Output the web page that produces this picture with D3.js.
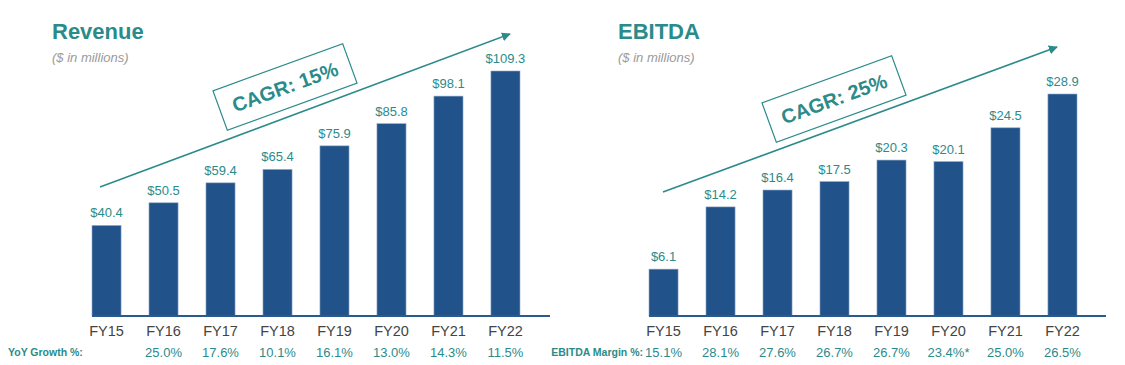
<!DOCTYPE html>
<html>
<head>
<meta charset="utf-8">
<script src="https://cdn.jsdelivr.net/npm/d3@7"></script>
<style>
  body { margin: 0; background: #fff; }
  svg { font-family: Arial, "Liberation Sans", sans-serif; }
</style>
</head>
<body>
<div id="chart"></div>
<script>
const years = ["FY15", "FY16", "FY17", "FY18", "FY19", "FY20", "FY21", "FY22"];
const revenue = [40.4, 50.5, 59.4, 65.4, 75.9, 85.8, 98.1, 109.3];
const revenueGrowth = ["", "25.0%", "17.6%", "10.1%", "16.1%", "13.0%", "14.3%", "11.5%"];
const ebitda = [6.1, 14.2, 16.4, 17.5, 20.3, 20.1, 24.5, 28.9];
const ebitdaMargin = ["15.1%", "28.1%", "27.6%", "26.7%", "26.7%", "23.4%*", "25.0%", "26.5%"];

const teal = "#2b8b8a";
const barColor = "#21538a";
const width = 1125, height = 365;

const svg = d3.select("#chart").append("svg")
    .attr("width", width)
    .attr("height", height);

svg.append("defs").append("marker")
    .attr("id", "arrowhead")
    .attr("viewBox", "0 0 10 10")
    .attr("refX", 9).attr("refY", 5)
    .attr("markerWidth", 9).attr("markerHeight", 9)
    .attr("markerUnits", "userSpaceOnUse")
    .attr("orient", "auto")
    .append("path")
    .attr("d", "M0,0 L10,5 L0,10 z")
    .attr("fill", teal);

function drawPanel(opts) {
    const g = svg.append("g");
    const baseline = 316;

    const x = d3.scaleBand()
        .domain(years)
        .range(opts.xRange)
        .paddingInner(0.49)
        .paddingOuter(0);

    const y = d3.scaleLinear()
        .domain([0, d3.max(opts.values)])
        .range([baseline, opts.topY]);

    // title
    g.append("text")
        .attr("x", opts.titleX).attr("y", 39)
        .attr("fill", teal)
        .style("font-size", "22px")
        .style("font-weight", "bold")
        .text(opts.title);

    g.append("text")
        .attr("x", opts.titleX).attr("y", 62)
        .attr("fill", "#9a9a9a")
        .style("font-size", "13px")
        .style("font-style", "italic")
        .text("($ in millions)");

    // CAGR arrow
    g.append("line")
        .attr("x1", opts.arrow[0]).attr("y1", opts.arrow[1])
        .attr("x2", opts.arrow[2]).attr("y2", opts.arrow[3])
        .attr("stroke", teal)
        .attr("stroke-width", 1.6)
        .attr("marker-end", "url(#arrowhead)");

    // CAGR box
    const box = g.append("g")
        .attr("transform", `translate(${opts.box[0]},${opts.box[1]}) rotate(-20)`);
    box.append("rect")
        .attr("x", -69).attr("y", -21)
        .attr("width", 138).attr("height", 42)
        .attr("fill", "#fff")
        .attr("stroke", teal)
        .attr("stroke-width", 1.2);
    box.append("text")
        .attr("text-anchor", "middle")
        .attr("y", 7)
        .attr("fill", teal)
        .style("font-size", "20px")
        .style("font-weight", "bold")
        .text(opts.cagr);

    // bars
    g.selectAll(".bar")
        .data(opts.values)
        .join("rect")
        .attr("class", "bar")
        .attr("x", (d, i) => x(years[i]))
        .attr("y", d => y(d))
        .attr("width", x.bandwidth())
        .attr("height", d => baseline - y(d))
        .attr("fill", barColor)
        .attr("stroke", "#8fa9c6")
        .attr("stroke-width", 0.6);

    // baseline
    g.append("line")
        .attr("x1", opts.xRange[0]).attr("x2", opts.axisEnd)
        .attr("y1", baseline).attr("y2", baseline)
        .attr("stroke", "#2a5b8f")
        .attr("stroke-width", 2);

    // value labels
    g.selectAll(".val")
        .data(opts.values)
        .join("text")
        .attr("class", "val")
        .attr("x", (d, i) => x(years[i]) + x.bandwidth() / 2)
        .attr("y", d => y(d) - 8)
        .attr("text-anchor", "middle")
        .attr("fill", teal)
        .style("font-size", "13px")
        .text(d => "$" + d.toFixed(1));

    // category labels
    g.selectAll(".cat")
        .data(years)
        .join("text")
        .attr("class", "cat")
        .attr("x", d => x(d) + x.bandwidth() / 2)
        .attr("y", 336)
        .attr("text-anchor", "middle")
        .attr("fill", "#444")
        .style("font-size", "14.5px")
        .text(d => d);

    // percentage row
    g.append("text")
        .attr("x", opts.rowLabelX).attr("y", 356)
        .attr("text-anchor", opts.rowAnchor)
        .attr("fill", teal)
        .style("font-size", "10.5px")
        .style("font-weight", "bold")
        .text(opts.rowLabel);

    g.selectAll(".pct")
        .data(opts.pcts)
        .join("text")
        .attr("class", "pct")
        .attr("x", (d, i) => x(years[i]) + x.bandwidth() / 2)
        .attr("y", 357)
        .attr("text-anchor", "middle")
        .attr("fill", teal)
        .style("font-size", "13px")
        .text(d => d);
}

drawPanel({
    title: "Revenue", titleX: 52,
    values: revenue, pcts: revenueGrowth,
    xRange: [92, 520], axisEnd: 550, topY: 71,
    arrow: [100, 187, 510, 34],
    box: [285, 87], cagr: "CAGR: 15%",
    rowLabel: "YoY Growth %:", rowLabelX: 8, rowAnchor: "start"
});

drawPanel({
    title: "EBITDA", titleX: 618,
    values: ebitda, pcts: ebitdaMargin,
    xRange: [649, 1077], axisEnd: 1106, topY: 94,
    arrow: [663, 192, 1057, 47],
    box: [834, 99], cagr: "CAGR: 25%",
    rowLabel: "EBITDA Margin %:", rowLabelX: 643, rowAnchor: "end"
});
</script>
</body>
</html>
